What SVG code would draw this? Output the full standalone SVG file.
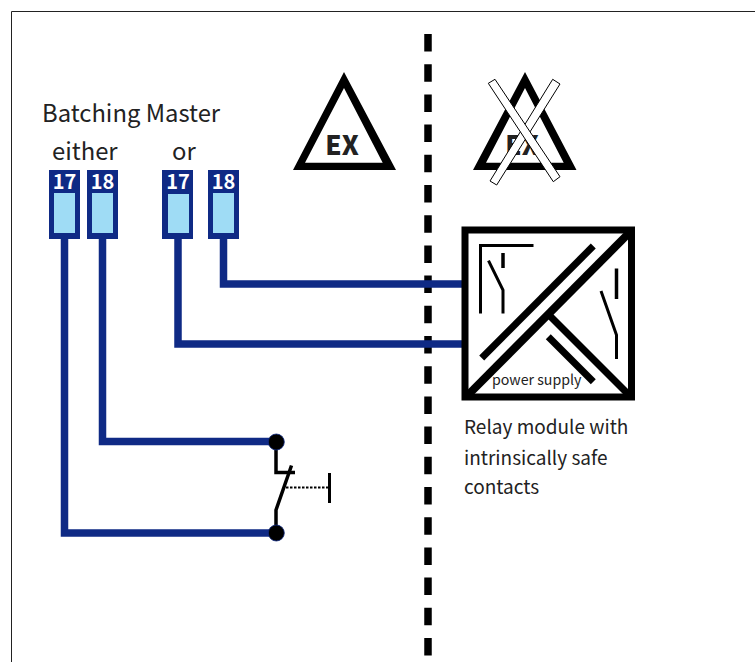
<svg xmlns="http://www.w3.org/2000/svg" width="755" height="662" viewBox="0 0 755 662">
<defs>
<style>
text{font-family:"Noto Sans CJK SC","Noto Sans","Liberation Sans",sans-serif;fill:#222}
.lbl{font-size:23.8px}
.rel{font-size:19px}
.num{font-size:20px;font-weight:700;fill:#fff;text-anchor:middle}
.ex{font-size:26px;font-weight:900;text-anchor:middle}
.term{fill:#0f2a85}
.well{fill:#9fdcf5}
.wire{fill:none;stroke:#0f2a85;stroke-width:7.5}
.blk{fill:none;stroke:#000}
.bar{fill:#fff;stroke:#000;stroke-width:1}
</style>
</defs>
<rect width="755" height="662" fill="#fff"/>
<path d="M11.5 662V11.5H755" fill="none" stroke="#222" stroke-width="1"/>
<g id="connectors">
<line id="barrier" x1="428" y1="34" x2="428" y2="656" stroke="#000" stroke-width="7.5" stroke-dasharray="17.5 12.7"/>
<path class="wire" d="M64.5 238V533H276"/>
<path class="wire" d="M102.5 238V441.5H276"/>
<path class="wire" d="M178 238V344H463"/>
<path class="wire" d="M223.5 238V284H463"/>
</g>
<g id="title">
<text class="lbl" x="42" y="122">Batching Master</text>
<text class="lbl" x="52" y="160">either</text>
<text class="lbl" x="172" y="160">or</text>
</g>
<g id="terminal-17a"><rect class="term" x="49" y="170" width="31" height="69"/><rect class="well" x="54" y="193" width="21" height="40"/><text class="num" x="64.5" y="188.5">17</text></g>
<g id="terminal-18a"><rect class="term" x="87" y="170" width="31" height="69"/><rect class="well" x="92" y="193" width="21" height="40"/><text class="num" x="102.5" y="188.5">18</text></g>
<g id="terminal-17b"><rect class="term" x="162" y="170" width="31" height="69"/><rect class="well" x="168" y="194" width="21" height="39"/><text class="num" x="178" y="188.5">17</text></g>
<g id="terminal-18b"><rect class="term" x="208" y="170" width="31" height="69"/><rect class="well" x="213" y="193" width="21" height="40"/><text class="num" x="223.5" y="188.5">18</text></g>
<g id="ex-zone">
<polygon fill-rule="evenodd" fill="#000" points="344,72 396,170 293,170 344,72 344,88 305,162.7 382.7,162.7 344,88"/>
<text class="ex" x="342" y="155">EX</text>
</g>
<g id="ex-crossed">
<polygon fill-rule="evenodd" fill="#000" points="525,72 576.5,170 473,170 525,72 525,88 486,162.7 563.7,162.7 525,88"/>
<text class="ex" x="522" y="155">EX</text>
<polygon class="bar" points="552.7,79.3 560,84 496.7,185 490,181"/>
<polygon class="bar" points="488.3,83.3 495,79.3 560,176.7 553.3,181.7"/>
</g>
<g id="relay-module">
<rect x="465" y="230" width="166.5" height="167" fill="#fff" stroke="#000" stroke-width="7"/>
<line class="blk" x1="467" y1="396" x2="630" y2="232" stroke-width="8"/>
<line class="blk" x1="481.7" y1="358" x2="593.3" y2="246" stroke-width="7"/>
<line class="blk" x1="549" y1="315" x2="629" y2="395" stroke-width="7"/>
<line class="blk" x1="548.3" y1="336.7" x2="593.3" y2="381.7" stroke-width="7"/>
<path class="blk" stroke-width="3" d="M480.5 313.5V245.5H533.5"/>
<path class="blk" stroke-width="3.5" d="M503 253V268"/>
<path class="blk" stroke-width="3" d="M488.5 260.7 503 290V313.5"/>
<path class="blk" stroke-width="3.5" d="M616.5 268.5V299"/>
<path class="blk" stroke-width="3" d="M601 291 616.5 335V359"/>
<text x="492" y="385" font-size="14.2">power supply</text>
</g>
<g id="relay-label">
<text class="rel" x="464" y="434">Relay module with</text>
<text class="rel" x="464" y="465">intrinsically safe</text>
<text class="rel" x="464" y="494">contacts</text>
</g>
<g id="switch">
<path class="blk" stroke-width="3.5" d="M276 442V472.5H295"/>
<path class="blk" stroke-width="3.5" d="M291.5 465.5 276 510V533"/>
<line class="blk" x1="286" y1="487.5" x2="328" y2="487.5" stroke-width="2" stroke-dasharray="2.5 1.5"/>
<line class="blk" x1="329.5" y1="473" x2="329.5" y2="503" stroke-width="3"/>
<circle cx="276.3" cy="442" r="8" fill="#000" stroke="#0f2a85" stroke-width="0.8"/>
<circle cx="276.3" cy="533" r="8" fill="#000" stroke="#0f2a85" stroke-width="0.8"/>
</g>
</svg>
